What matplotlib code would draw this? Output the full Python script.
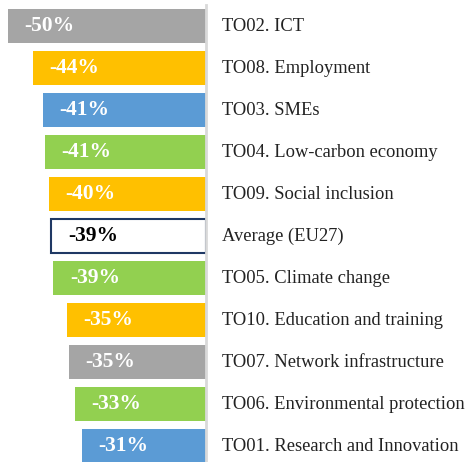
import numpy as np
import matplotlib
matplotlib.use("Agg")
import matplotlib.pyplot as plt

plt.rcParams["font.family"] = ["Liberation Serif", "DejaVu Serif"]

categories = ["TO02. ICT", "TO08. Employment", "TO03. SMEs", "TO04. Low-carbon economy",
              "TO09. Social inclusion", "Average (EU27)", "TO05. Climate change",
              "TO10. Education and training", "TO07. Network infrastructure",
              "TO06. Environmental protection", "TO01. Research and Innovation"]
values = [-50.0, -43.7, -41.2, -40.7, -39.7, -39.1, -38.6, -35.1, -34.6, -33.1, -31.3]
value_labels = ["-50%", "-44%", "-41%", "-41%", "-40%", "-39%", "-39%", "-35%", "-35%", "-33%", "-31%"]

GRAY = "#A5A5A5"
GOLD = "#FFC000"
BLUE = "#5B9BD5"
GREEN = "#92D050"
colors = [GRAY, GOLD, BLUE, GREEN, GOLD, "white", GREEN, GOLD, GRAY, GREEN, BLUE]

fig = plt.figure(figsize=(4.65, 4.62), dpi=100)
ax = fig.add_axes([0, 0, 206 / 465, 1])

y = np.arange(len(categories))
for i, (v, c) in enumerate(zip(values, colors)):
    if c == "white":
        ax.barh(i, v, height=0.8, color="white", edgecolor="#1F3864", linewidth=1.5)
    else:
        ax.barh(i, v, height=0.8, color=c, edgecolor="none")

for i, (v, lab, c) in enumerate(zip(values, value_labels, colors)):
    tc = "black" if c == "white" else "white"
    ax.annotate(lab, xy=(v, i), xytext=(12, 0), textcoords="offset points",
                ha="left", va="center", fontsize=15.5, fontweight="bold", color=tc)
    ax.annotate(categories[i], xy=(0, i), xytext=(11.5, 0), textcoords="offset points",
                ha="left", va="center", fontsize=13.3, color="#222222",
                annotation_clip=False)

ax.set_xlim(-52, 0)
ax.set_ylim(10.38, -0.62)
ax.axvline(0, ymin=0, ymax=1 - 5 / 462, color="#D9D9D9", linewidth=2, clip_on=False)
for s in ax.spines.values():
    s.set_visible(False)
ax.set_xticks([])
ax.set_yticks([])

fig.savefig("out.png", dpi=100)
